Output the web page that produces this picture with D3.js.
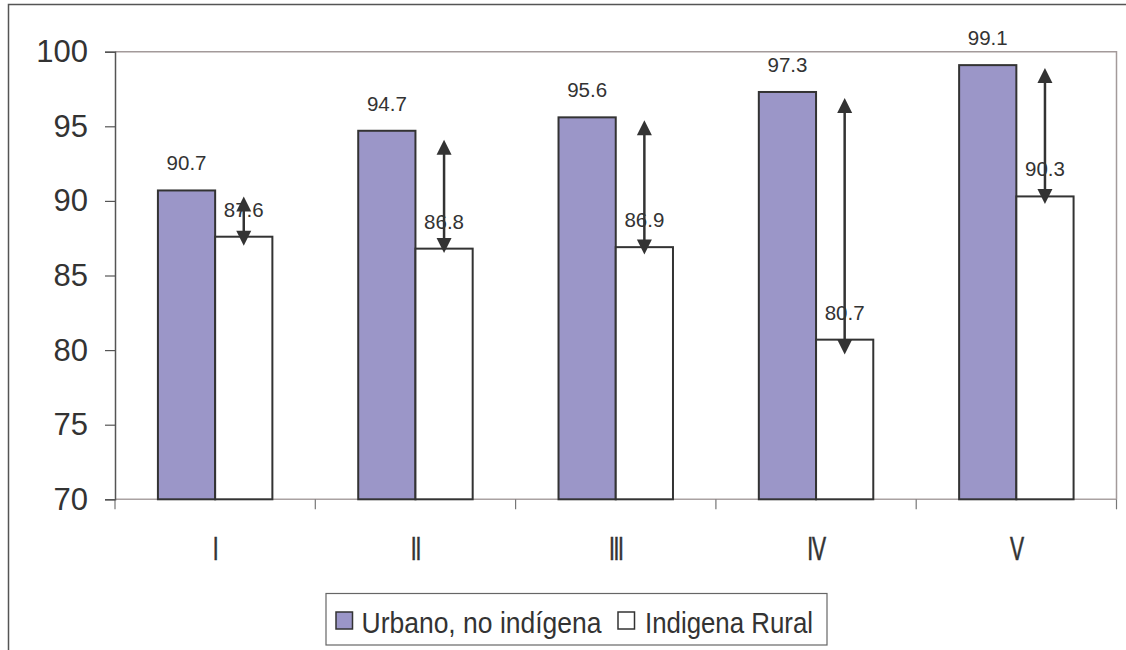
<!DOCTYPE html>
<html>
<head>
<meta charset="utf-8">
<script src="https://cdn.jsdelivr.net/npm/d3@7/dist/d3.min.js"></script>
<style>
  html, body { margin: 0; padding: 0; background: #fff; }
  svg { display: block; font-family: "Liberation Sans", Arial, sans-serif; }
</style>
</head>
<body>
<svg id="chart" width="1126" height="650"></svg>
<script>
// ---- data ----
const categories = ["I", "II", "III", "IV", "V"];
const seriesNames = ["Urbano, no indígena", "Indigena Rural"];
const urbano = [90.7, 94.7, 95.6, 97.3, 99.1];
const indigena = [87.6, 86.8, 86.9, 80.7, 90.3];
const arrowTop = [90.3, 94.1, 95.4, 96.9, 98.9];
const arrowBottom = [87.0, 86.5, 86.4, 79.7, 89.8];
const yTicks = [70, 75, 80, 85, 90, 95, 100];

(function () {
// ---- layout ----
const svg = d3.select("#chart");
const pLeft = 115, pRight = 1116.5, pTop = 51.7, pBottom = 499.3;
const ink = "#333333";
const colors = ["#9b96c8", "#ffffff"];

const x = d3.scaleBand().domain(categories).range([pLeft, pRight]).padding(0);
const inner = d3.scaleBand().domain(seriesNames).range([0, x.bandwidth()])
  .paddingInner(0).paddingOuter(0.75);
const y = d3.scaleLinear().domain([70, 100]).range([pBottom, pTop]);

// outer frame (cut off at right and bottom)
svg.append("path").attr("d", "M8.5,650V4.5H1126")
  .attr("fill", "none").attr("stroke", "#555").attr("stroke-width", 1.5);

// plot area border (top & right)
svg.append("path")
  .attr("d", `M${pLeft},${pTop}H${pRight}V${pBottom}`)
  .attr("fill", "none").attr("stroke", "#a39a9a").attr("stroke-width", 1.5);

// x axis baseline
svg.append("line").attr("x1", pLeft).attr("x2", pRight)
  .attr("y1", pBottom).attr("y2", pBottom)
  .attr("stroke", "#aaa2a2").attr("stroke-width", 1.5);

// category boundary ticks
const bounds = categories.map(c => x(c)).concat([pRight]);
svg.append("g").selectAll("line").data(bounds).join("line")
  .attr("x1", d => d).attr("x2", d => d)
  .attr("y1", pBottom).attr("y2", pBottom + 10)
  .attr("stroke", "#777").attr("stroke-width", 1.2);

// y axis
const yAxis = svg.append("g").attr("transform", `translate(${pLeft},0)`)
  .call(d3.axisLeft(y).tickValues(yTicks).tickSize(10).tickPadding(17).tickFormat(d3.format("d")));
yAxis.select(".domain").attr("stroke", "#555").attr("stroke-width", 1.5);
yAxis.selectAll(".tick line").attr("stroke", "#555").attr("stroke-width", 1.2);
yAxis.selectAll(".tick text").attr("fill", ink).attr("font-size", 31)
  .attr("font-family", "Liberation Sans, Arial, sans-serif");

// category labels (narrow roman numerals)
const xAxis = svg.append("g").attr("transform", `translate(0,${pBottom})`)
  .call(d3.axisBottom(x).tickSize(0).tickPadding(37));
xAxis.select(".domain").remove();
xAxis.selectAll(".tick text").attr("fill", ink).attr("font-size", 33)
  .attr("font-family", "Liberation Sans, Arial, sans-serif")
  .attr("letter-spacing", -2)
  .attr("stroke", ink).attr("stroke-width", 0.6)
  .attr("transform", "scale(0.64,1)");

// bars
const rows = categories.map((c, i) => ({ c, vals: [urbano[i], indigena[i]], i }));
const groups = svg.append("g").selectAll("g").data(rows).join("g")
  .attr("transform", d => `translate(${x(d.c)},0)`);

groups.selectAll("rect").data(d => d.vals.map((v, k) => ({ v, k }))).join("rect")
  .attr("x", d => inner(seriesNames[d.k]))
  .attr("width", inner.bandwidth())
  .attr("y", d => y(d.v))
  .attr("height", d => pBottom - y(d.v))
  .attr("fill", d => colors[d.k])
  .attr("stroke", ink).attr("stroke-width", 2);

// value labels
groups.selectAll("text.val").data(d => d.vals.map((v, k) => ({ v, k }))).join("text")
  .attr("class", "val")
  .attr("x", d => inner(seriesNames[d.k]) + inner.bandwidth() / 2)
  .attr("y", d => y(d.v) - 20)
  .attr("text-anchor", "middle")
  .attr("font-size", 20.5)
  .attr("fill", ink)
  .text(d => d3.format(".1f")(d.v));

// double-headed arrows
const head = 15, halfW = 7.5;
groups.each(function (d) {
  const g = d3.select(this);
  const ax = inner(seriesNames[1]) + inner.bandwidth() / 2;
  const yt = y(arrowTop[d.i]), yb = y(arrowBottom[d.i]);
  g.append("line").attr("x1", ax).attr("x2", ax)
    .attr("y1", yt + head - 2).attr("y2", yb - head + 2)
    .attr("stroke", ink).attr("stroke-width", 2.5);
  g.append("path")
    .attr("d", `M${ax},${yt}L${ax - halfW},${yt + head}L${ax + halfW},${yt + head}Z`)
    .attr("fill", ink);
  g.append("path")
    .attr("d", `M${ax},${yb}L${ax - halfW},${yb - head}L${ax + halfW},${yb - head}Z`)
    .attr("fill", ink);
});

// legend
const lg = svg.append("g");
lg.append("rect").attr("x", 326).attr("y", 593.5).attr("width", 501).attr("height", 51.5)
  .attr("fill", "#fff").attr("stroke", "#666").attr("stroke-width", 1.2);
const legendItems = [
  { name: seriesNames[0], sx: 336, tx: 361.5, len: 240 },
  { name: seriesNames[1], sx: 618, tx: 645, len: 168 }
];
legendItems.forEach((it, k) => {
  lg.append("rect").attr("x", it.sx).attr("y", 612).attr("width", 16.5).attr("height", 17)
    .attr("fill", colors[k]).attr("stroke", ink).attr("stroke-width", 1.5);
  lg.append("text").attr("x", it.tx).attr("y", 633)
    .attr("font-size", 30).attr("fill", ink)
    .attr("textLength", it.len).attr("lengthAdjust", "spacingAndGlyphs")
    .text(it.name);
});
})();
</script>
</body>
</html>
